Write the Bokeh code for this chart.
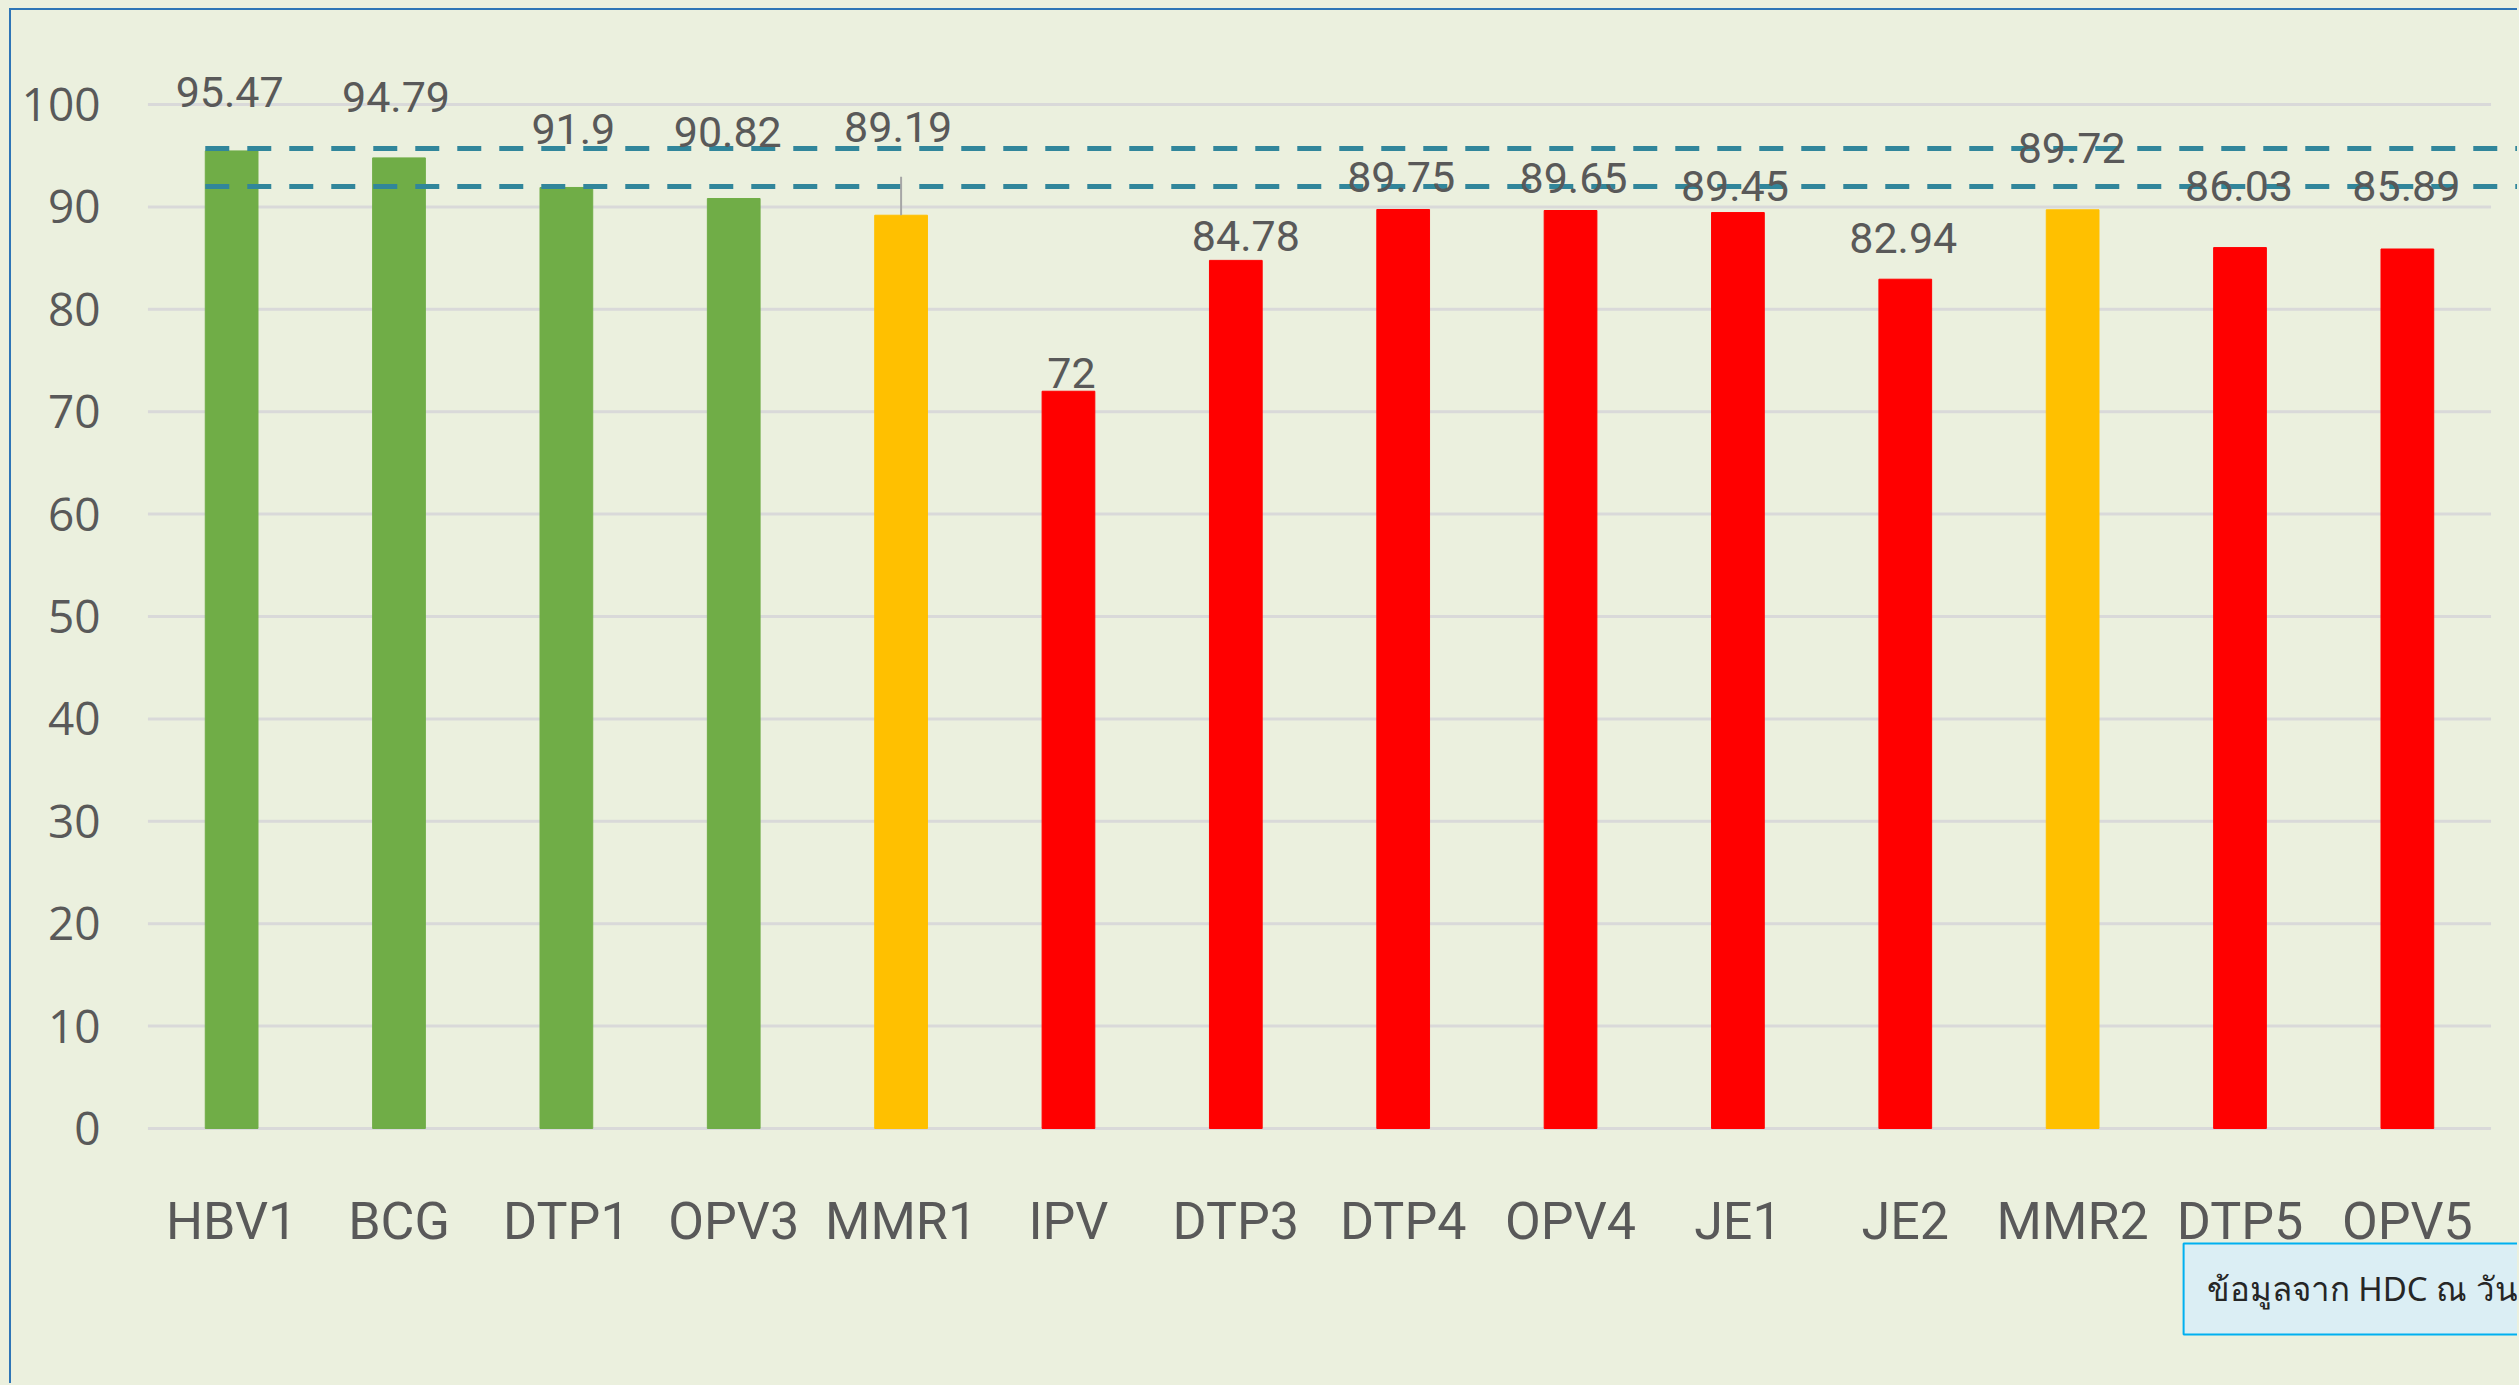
from bokeh.plotting import figure
from bokeh.models import ColumnDataSource, LabelSet, FixedTicker, Range1d, FactorRange, Label
from bokeh.core.properties import value
from bokeh.embed import file_html
from bokeh.resources import INLINE

# ---------------- data ----------------
categories = ["HBV1", "BCG", "DTP1", "OPV3", "MMR1", "IPV", "DTP3",
              "DTP4", "OPV4", "JE1", "JE2", "MMR2", "DTP5", "OPV5"]
coverage = [95.47, 94.79, 91.9, 90.82, 89.19, 72, 84.78,
            89.75, 89.65, 89.45, 82.94, 89.72, 86.03, 85.89]
status = ["pass", "pass", "pass", "pass", "near", "fail", "fail",
          "fail", "fail", "fail", "fail", "near", "fail", "fail"]
target_lines = [95.7, 92.0]
y_ticks = [0, 10, 20, 30, 40, 50, 60, 70, 80, 90, 100]
note_text = "ข้อมูลจาก HDC ณ วันที่"

# ---------------- style ----------------
status_colors = {"pass": "#70AD47", "near": "#FFC000", "fail": "#FF0000"}
label_dy = [44, 46, 43, 52, 73, 3, 9, 17, 18, 12, 26, 47, 47, 48]   # px above bar top
label_dx = [-2, -3, 7, -6, -3, 3, 10, -2, 3, -3, -2, -1, -1, -1]    # px
leader_index = 4
leader_len = 3.75
BG = "#EBF0DE"
TXT = "#595959"
LBL_FONT = "Roboto"
PAD = 0.17   # categorical padding so the frame reaches the right edge

n = len(categories)
W, H = 2508, 1375
p = figure(width=W, height=H, output_backend="svg", toolbar_location=None,
           x_range=FactorRange(factors=categories, range_padding=PAD,
                               range_padding_units="absolute"),
           y_range=Range1d(-25.1, 107.23),
           min_border_left=108, min_border_right=0,
           min_border_top=20, min_border_bottom=0)
p.background_fill_color = BG
p.border_fill_color = BG
p.outline_line_color = None
p.styles = {"margin-left": "9px", "margin-top": "8px",
            "border-left": "2px solid #2E75B6", "border-top": "2px solid #2E75B6"}

src = ColumnDataSource(dict(
    cat=categories, val=coverage,
    base=[0] * n,
    color=[status_colors[s] for s in status],
    txt=[f"{v:g}" for v in coverage],
    dx=label_dx, dy=label_dy))

# axes
ticker = FixedTicker(ticks=y_ticks)
p.yaxis.ticker = ticker
p.xgrid.visible = False
p.ygrid.visible = False
p.xaxis.visible = False

ax = p.yaxis[0]
ax.axis_line_color = None
ax.major_tick_line_color = None
ax.minor_tick_line_color = None
ax.major_tick_out = 0
ax.major_tick_in = 0
ax.major_label_text_color = TXT
ax.major_label_text_font = "Open Sans"
ax.major_label_text_font_size = "46px"
ax.major_label_standoff = 19

# horizontal gridlines spanning the category area only
p.segment(x0=[0] * len(y_ticks), y0=y_ticks, x1=[n] * len(y_ticks), y1=y_ticks,
          line_color="#D9D9D9", line_width=3)

# bars
bar_w = 0.315
p.vbar(x="cat", top="val", width=bar_w, color="color", source=src)

# target dashed lines
x_start = 0.5 - bar_w / 2
p.segment(x0=[x_start] * len(target_lines), y0=target_lines,
          x1=[n + PAD] * len(target_lines), y1=target_lines,
          line_color="#31869B", line_width=5, line_dash="24 18")

# leader line for the moved label
p.segment(x0=[categories[leader_index]], y0=[coverage[leader_index]],
          x1=[categories[leader_index]], y1=[coverage[leader_index] + leader_len],
          line_color="#A6A6A6", line_width=2)

# category labels (x axis)
cat_labels = LabelSet(x="cat", y="base", text="cat", source=src,
                      y_offset=-111, text_align="center", text_baseline="alphabetic",
                      text_font=value(LBL_FONT), text_font_size="52px",
                      text_color=TXT)
p.add_layout(cat_labels)

# data labels
labels = LabelSet(x="cat", y="val", text="txt", source=src,
                  x_offset="dx", y_offset="dy",
                  text_align="center", text_baseline="alphabetic",
                  text_font=value(LBL_FONT), text_font_size="43px",
                  text_color=TXT)
p.add_layout(labels)

# note box (cropped at right edge as in reference)
note = Label(x=12.163, y=-11.23, x_units="data", y_units="data",
             text=note_text, text_align="left", text_baseline="top",
             text_font="Noto Sans", text_font_size="33px",
             text_color="#262626",
             background_fill_color="#DBEEF4",
             border_line_color="#00B0F0", border_line_width=2,
             padding=23)
p.add_layout(note)

template = """{% block preamble %}<style>body{background:#EBF0DE;}</style>{% endblock %}"""
html = file_html(p, INLINE, title="chart", template=template)
open("out.html", "w").write(html)
